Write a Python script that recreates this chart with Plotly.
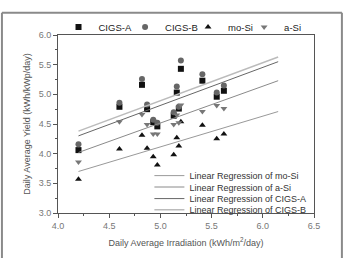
import plotly.graph_objects as go

# Data
irradiation = [4.20, 4.60, 4.82, 4.87, 4.93, 4.97, 5.13, 5.16, 5.18, 5.20, 5.41, 5.55, 5.62]
cigs_a = [4.06, 4.79, 5.16, 4.75, 4.53, 4.46, 4.64, 5.03, 4.76, 5.43, 5.23, 4.96, 5.06]
cigs_b = [4.16, 4.86, 5.26, 4.83, 4.57, 4.52, 4.70, 5.13, 4.79, 5.57, 5.34, 5.03, 5.15]
mo_si = [3.57, 4.08, 4.31, 4.09, 3.95, 3.81, 3.98, 4.27, 4.13, 4.54, 4.48, 4.25, 4.33]
a_si = [3.86, 4.54, 4.66, 4.49, 4.33, 4.33, 4.49, 4.65, 4.52, 4.82, 4.71, 4.81, 4.76]

# Regression lines (end values)
reg_x = [4.2, 6.15]
reg_mo_si = [3.70, 4.71]
reg_a_si = [4.02, 5.23]
reg_cigs_a = [4.30, 5.55]
reg_cigs_b = [4.38, 5.63]

FONT = "Arial, Liberation Sans, sans-serif"

fig = go.Figure()
legend_layouts = {}

markers = [
    ("CIGS-A", cigs_a, "square", "#111111"),
    ("CIGS-B", cigs_b, "circle", "#666666"),
    ("mo-Si", mo_si, "triangle-up", "#111111"),
    ("a-Si", a_si, "triangle-down", "#777777"),
]
marker_legend_x = [0.002, 0.262, 0.508, 0.727]
for i, (name, ys, sym, col) in enumerate(markers):
    lg = "legend" if i == 0 else "legend%d" % (i + 5)
    fig.add_trace(go.Scatter(x=irradiation, y=ys, mode="markers", name=name,
                             marker=dict(symbol=sym, size=6, color=col),
                             legend=lg))
    legend_layouts[lg] = dict(orientation="h", x=marker_legend_x[i], y=1.045,
                              xanchor="left", yanchor="middle",
                              font=dict(family=FONT, size=9.5, color="#222222"),
                              itemwidth=30, bgcolor="rgba(0,0,0,0)", borderwidth=0)

lines = [
    ("Linear Regression of mo-Si", reg_mo_si, "#999999", 1),
    ("Linear Regression of a-Si", reg_a_si, "#8a8a8a", 1),
    ("Linear Regression of CIGS-A", reg_cigs_a, "#666666", 1),
    ("Linear Regression of CIGS-B", reg_cigs_b, "#bbbbbb", 1.5),
]
line_legend_y = [0.21, 0.146, 0.081, 0.018]
for i, (name, ys, col, w) in enumerate(lines):
    lg = "legend%d" % (i + 2)
    fig.add_trace(go.Scatter(x=reg_x, y=ys, mode="lines", name=name,
                             line=dict(color=col, width=w), legend=lg))
    legend_layouts[lg] = dict(orientation="v", x=0.357, y=line_legend_y[i],
                              xanchor="left", yanchor="middle",
                              font=dict(family=FONT, size=9, color="#333333"),
                              itemwidth=30, bgcolor="rgba(0,0,0,0)",
                              borderwidth=0)

axis_common = dict(
    showline=True, linecolor="#555555", linewidth=1, mirror=True,
    ticks="outside", ticklen=4, tickcolor="#555555", tickwidth=1,
    showgrid=False, zeroline=False,
    tickfont=dict(family=FONT, size=9, color="#777777"),
    minor=dict(ticks="outside", ticklen=2, tickcolor="#555555", dtick=0.25),
)

fig.update_xaxes(range=[4.0, 6.5], dtick=0.5, tickformat=".1f",
                 title=dict(text="Daily Average Irradiation (kWh/m<sup>2</sup>/day)",
                            font=dict(family=FONT, size=9, color="#555555"), standoff=9),
                 **axis_common)
fig.update_yaxes(range=[3.0, 6.0], dtick=0.5, tickformat=".1f",
                 title=dict(text="Daily Average Yield (kWh/kWp/day)",
                            font=dict(family=FONT, size=9, color="#555555"), standoff=6),
                 **axis_common)

# Outer image frame
for x0, y0, x1, y1 in [(-0.219, -0.3, -0.219, 1.125), (1.109, -0.3, 1.109, 1.125),
                       (-0.219, 1.125, 1.109, 1.125)]:
    fig.add_shape(type="line", xref="paper", yref="paper", x0=x0, y0=y0, x1=x1, y1=y1,
                  line=dict(color="#8a8a8a", width=2))

fig.update_layout(
    width=347, height=258,
    margin=dict(l=58, r=33, t=25, b=41),
    paper_bgcolor="white", plot_bgcolor="white",
    font=dict(family=FONT, color="#333333"),
    showlegend=True,
    **legend_layouts,
)

fig.write_html("out.html")
